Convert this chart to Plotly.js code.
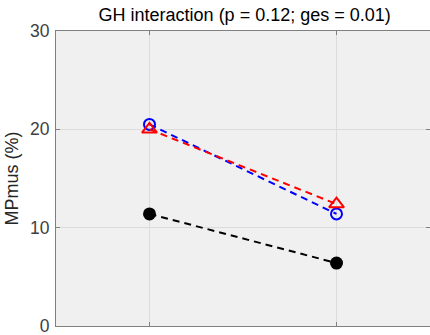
<!DOCTYPE html>
<html><head><meta charset="utf-8">
<script src="https://cdn.plot.ly/plotly-3.0.1.min.js"></script>
<style>html,body{margin:0;padding:0;background:#fff}#chart{width:430px;height:335px}</style>
</head><body><div id="chart"></div>
<script>
const conditions = [1, 2];
const seriesBlue = [20.5, 11.4];
const seriesRed = [20.0, 12.4];
const seriesBlack = [11.4, 6.4];
const yTicks = [0, 10, 20, 30];

const traces = [
  {x: conditions, y: seriesBlue, mode: 'lines+markers', type: 'scatter',
   line: {color: '#0000ff', width: 2, dash: '7px,5px'},
   marker: {symbol: 'circle-open', size: 11, color: '#0000ff', line: {width: 2, color: '#0000ff'}}},
  {x: conditions, y: seriesRed, mode: 'lines+markers', type: 'scatter',
   line: {color: '#ff0000', width: 2, dash: '7px,5px'},
   marker: {symbol: 'triangle-up-open', size: 13, color: '#ff0000', line: {width: 2, color: '#ff0000'}}},
  {x: conditions, y: seriesBlack, mode: 'lines+markers', type: 'scatter',
   line: {color: '#000000', width: 2, dash: '7px,5px'},
   marker: {symbol: 'circle', size: 13, color: '#000000'}}
];

const layout = {
  width: 430, height: 335,
  margin: {l: 56, r: 0, t: 31, b: 9},
  paper_bgcolor: '#ffffff', plot_bgcolor: '#f0f0f0',
  showlegend: false,
  font: {family: 'Liberation Sans, Arial, sans-serif', size: 17, color: '#4d4d4d'},
  title: {text: 'GH interaction (p = 0.12; ges = 0.01)', x: 0.569, xanchor: 'center', y: 0.975, yanchor: 'top',
          font: {size: 18, color: '#000000'}},
  xaxis: {range: [0.5, 2.5], tickvals: conditions, ticktext: ['', ''], showticklabels: false,
          ticks: 'inside', ticklen: 4, tickcolor: '#808080',
          showgrid: true, gridcolor: '#dcdcdc', gridwidth: 1, zeroline: false,
          showline: true, linecolor: '#808080', linewidth: 1, mirror: 'ticks'},
  yaxis: {range: [0, 30], tickvals: yTicks, ticks: 'inside', ticklen: 4, tickcolor: '#808080',
          showgrid: true, gridcolor: '#dcdcdc', gridwidth: 1, zeroline: false,
          showline: true, linecolor: '#808080', linewidth: 1, mirror: 'ticks',
          ticklabeloverflow: 'allow', ticklabelstandoff: 2,
          tickfont: {size: 17.5, color: '#404040'},
          title: {text: 'MPmus (%)', font: {size: 18, color: '#262626'}, standoff: 6}}
};

Plotly.newPlot('chart', traces, layout, {displayModeBar: false, staticPlot: true});
</script></body></html>
